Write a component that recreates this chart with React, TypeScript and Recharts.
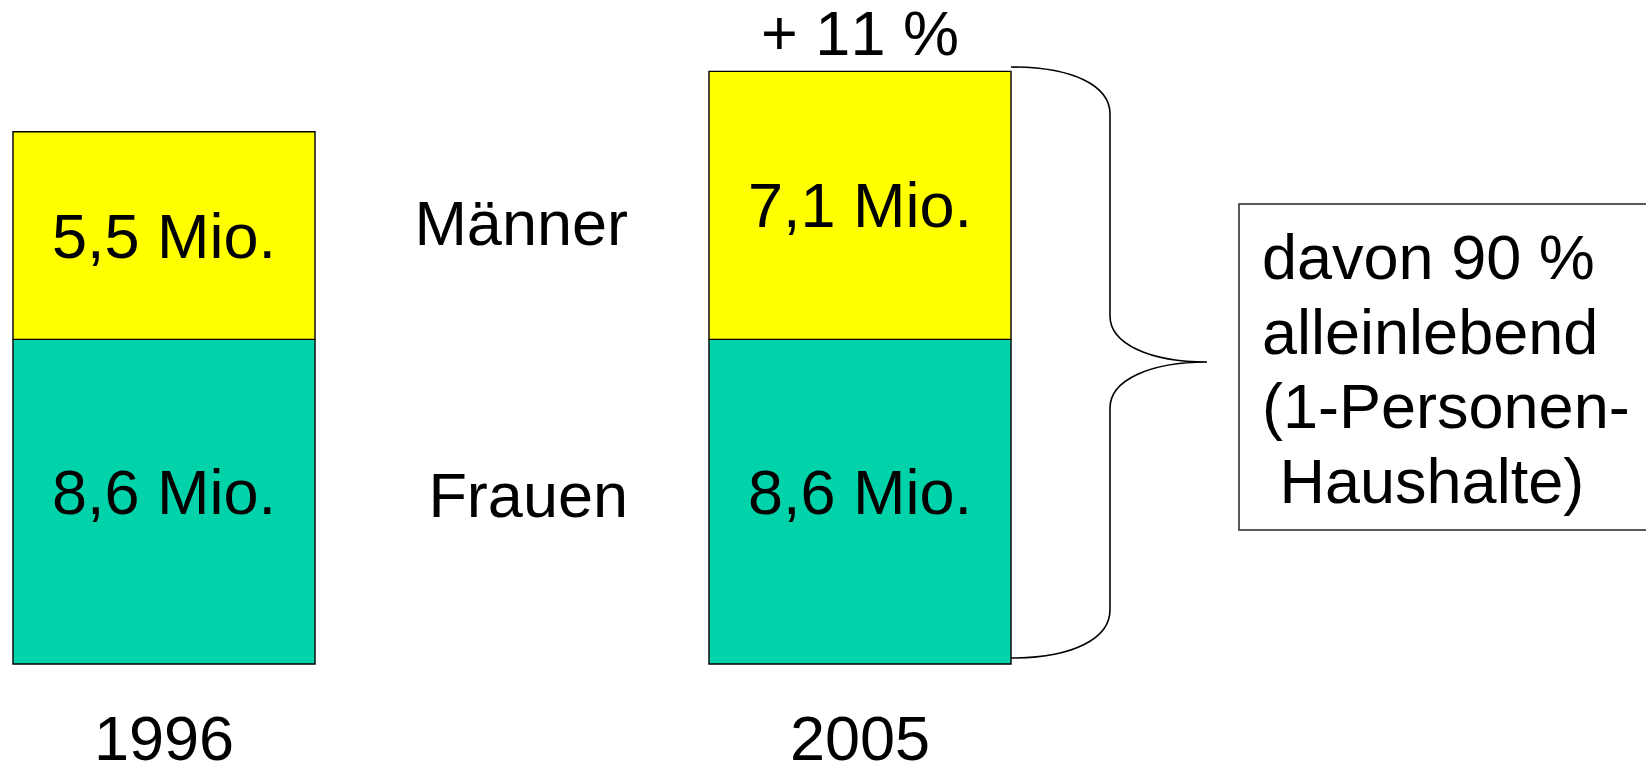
import { BarChart, Bar, XAxis, YAxis, LabelList, Customized } from 'recharts';

// middle slot stays empty: it is the gap that holds the series names
const years = ['1996', '', '2005'];
const frauen = [8.6, null, 8.6];
const maenner = [5.5, null, 7.1];
const changeNotes = ['', '', '+ 11 %'];
const seriesNames = ['Männer', 'Frauen'];
const boxLines = ['davon 90 %', 'alleinlebend', '(1-Personen-', ' Haushalte)'];

const data = years.map((year, i) => ({
  year,
  frauen: frauen[i],
  maenner: maenner[i],
  note: changeNotes[i],
}));

const FONT = '"Liberation Sans", Arial, Helvetica, sans-serif';
const YELLOW = '#ffff00';
const TEAL = '#00d3aa';

function mio(v: number): string {
  return `${v.toFixed(1).replace('.', ',')} Mio.`;
}

function box(p: any) {
  const vb = p.viewBox || {};
  return {
    x: Number(p.x ?? vb.x),
    y: Number(p.y ?? vb.y),
    w: Number(p.width ?? vb.width),
    h: Number(p.height ?? vb.height),
  };
}

function valueLabel(shift: number) {
  return (p: any) => {
    if (p.value == null || p.value === 0) return null;
    const { x, y, w, h } = box(p);
    return (
      <text x={x + w / 2} y={y + h / 2 + 22 + shift} textAnchor="middle" fontSize={63} fill="#000" fontFamily={FONT}>
        {mio(p.value)}
      </text>
    );
  };
}

function noteLabel(p: any) {
  if (!p.value) return null;
  const { x, y, w } = box(p);
  return (
    <text x={x + w / 2} y={y - 16} textAnchor="middle" fontSize={63} fill="#000" fontFamily={FONT}>
      {p.value}
    </text>
  );
}

function YearTick({ x, y, payload }: any) {
  if (!payload?.value) return null;
  return (
    <text x={x} y={y + 96} textAnchor="middle" fontSize={63} fill="#000" fontFamily={FONT}>
      {payload.value}
    </text>
  );
}

function Annotations() {
  return (
    <g fontFamily={FONT} fill="#000">
      <text x={628} y={245} textAnchor="end" fontSize={63}>{seriesNames[0]}</text>
      <text x={628} y={517} textAnchor="end" fontSize={63}>{seriesNames[1]}</text>
      <path
        d="M 1011 67 C 1074 67, 1110 86, 1110 114 L 1110 316 C 1110 344, 1150 362, 1207 362 C 1150 362, 1110 380, 1110 408 L 1110 610 C 1110 638, 1074 658, 1011 658"
        fill="none"
        stroke="#000"
        strokeWidth={1.6}
      />
      <rect x={1239} y={204} width={430} height={326} fill="#fff" stroke="#333" strokeWidth={1.6} />
      {boxLines.map((line, i) => (
        <text key={i} x={1262} y={279 + i * 74.5} fontSize={63} style={{ whiteSpace: 'pre' }}>
          {line}
        </text>
      ))}
    </g>
  );
}

export default function App() {
  return (
    <div style={{ position: 'absolute', left: 0, top: 0, background: '#fff', fontFamily: FONT, fontKerning: 'none' }}>
      <BarChart
        width={1646}
        height={763}
        data={data}
        barSize={302}
        margin={{ top: 60, right: 612, bottom: 0, left: -10 }}
      >
        <XAxis
          dataKey="year"
          height={99}
          axisLine={false}
          tickLine={false}
          tickSize={0}
          tickMargin={0}
          interval={0}
          tick={<YearTick />}
        />
        <YAxis hide domain={[0, 16]} />
        <Bar dataKey="frauen" stackId="a" fill={TEAL} stroke="#000" strokeWidth={1.4} isAnimationActive={false}>
          <LabelList dataKey="frauen" content={valueLabel(-10)} />
        </Bar>
        <Bar dataKey="maenner" stackId="a" fill={YELLOW} stroke="#000" strokeWidth={1.4} isAnimationActive={false}>
          <LabelList dataKey="maenner" content={valueLabel(0)} />
          <LabelList dataKey="note" content={noteLabel} />
        </Bar>
        <Customized component={<Annotations />} />
      </BarChart>
    </div>
  );
}
